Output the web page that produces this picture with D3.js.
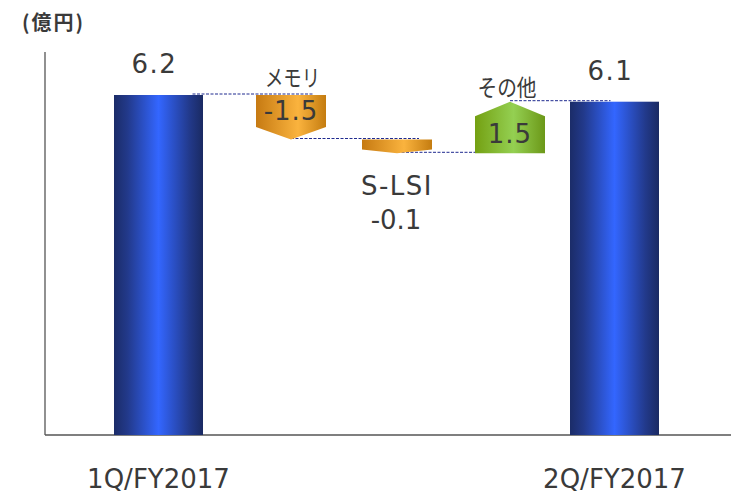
<!DOCTYPE html>
<html>
<head>
<meta charset="utf-8" />
<title>Waterfall 1Q-2Q FY2017</title>
<style>
html, body {
  margin: 0;
  padding: 0;
  background-color: #FFFFFF;
}
svg {
  display: block;
}
</style>
</head>
<body>
<script src="https://d3js.org/d3.v7.min.js"></script>
<script>
// data
var categories = ["1Q/FY2017", "メモリ", "S-LSI", "その他", "2Q/FY2017"];
var kinds = ["total", "delta", "delta", "delta", "total"];
var values = [6.2, -1.5, -0.1, 1.5, 6.1];
var valueLabels = ["6.2", "-1.5", "-0.1", "1.5", "6.1"];
var unitLabel = "(億円)";

var width = 731, height = 493;
var textColor = "#3a3a3a";
var numFont = "'DejaVu Sans', Verdana, sans-serif";
var jpFont = "'Noto Sans CJK JP', 'Noto Sans', sans-serif";

var svg = d3.select("body").append("svg")
  .attr("width", width)
  .attr("height", height);

// running totals for the bridge
var starts = [], ends = [];
var run = 0;
for (var i = 0; i < values.length; i++) {
  if (kinds[i] == "total") {
    starts.push(0);
    ends.push(values[i]);
    run = values[i];
  } else {
    starts.push(run);
    run = Math.round((run + values[i]) * 100) / 100;
    ends.push(run);
  }
}

// the slide is schematic: the bridge band near the top is stretched
var levels = Array.from(new Set(ends)).sort(d3.ascending);
var y = d3.scaleLinear()
  .domain([0].concat(levels))
  .range([435, 153.3, 139.5, 101.7, 95]);
var x = d3.scaleLinear()
  .domain(d3.range(categories.length))
  .range([158.5, 291, 397, 510, 614.5]);
var totalW = 89, deltaW = 70;

// gradients
var defs = svg.append("defs");
function grad(id, stops) {
  var g = defs.append("linearGradient").attr("id", id)
    .attr("x1", "0%").attr("x2", "100%").attr("y1", "0%").attr("y2", "0%");
  stops.forEach(function(s) {
    g.append("stop").attr("offset", s[0]).attr("stop-color", s[1]);
  });
}
grad("gBlue", [["0%", "#1b2c68"], ["15%", "#22398a"], ["50%", "#3366ff"], ["85%", "#22398a"], ["100%", "#1a2a62"]]);
grad("gOrange", [["0%", "#c67a12"], ["60%", "#fab33e"], ["100%", "#c47c10"]]);
grad("gGreen", [["0%", "#74a012"], ["55%", "#94d052"], ["100%", "#6c9818"]]);

// axes
svg.append("line")
  .attr("x1", 45).attr("x2", 45)
  .attr("y1", 52).attr("y2", y(0))
  .attr("stroke", "#555").attr("stroke-width", 1.3);
svg.append("line")
  .attr("x1", 45).attr("x2", width)
  .attr("y1", y(0)).attr("y2", y(0))
  .attr("stroke", "#555").attr("stroke-width", 1.3);

svg.append("text")
  .attr("x", 22).attr("y", 30)
  .attr("font-family", jpFont)
  .attr("font-weight", "bold")
  .attr("font-size", 20)
  .attr("textLength", 61)
  .attr("lengthAdjust", "spacing")
  .attr("fill", textColor)
  .text(unitLabel);

// connectors
for (var i = 0; i < values.length - 1; i++) {
  var yy = y(ends[i]) - 1;
  var x1 = kinds[i] == "total" ? x(i) + 34 : x(i);
  var x2 = kinds[i + 1] == "total" ? x(i + 1) - 4 : x(i + 1) + 22;
  svg.append("line")
    .attr("x1", x1).attr("x2", x2)
    .attr("y1", yy).attr("y2", yy)
    .attr("stroke", "#1f2a8f")
    .attr("stroke-width", 1)
    .attr("stroke-dasharray", "3,1.5");
}

// marks
categories.forEach(function(cat, i) {
  var cx = x(i);
  if (kinds[i] == "total") {
    svg.append("rect")
      .attr("x", cx - totalW / 2)
      .attr("y", y(ends[i]))
      .attr("width", totalW)
      .attr("height", y(0) - y(ends[i]))
      .attr("fill", "url(#gBlue)");
    svg.append("text")
      .attr("x", cx - 4).attr("y", y(ends[i]) - 22)
      .attr("text-anchor", "middle")
      .attr("font-family", numFont).attr("font-size", 26)
      .attr("letter-spacing", 1.5)
      .attr("fill", textColor)
      .text(valueLabels[i]);
    svg.append("text")
      .attr("x", cx).attr("y", 488)
      .attr("text-anchor", "middle")
      .attr("font-family", numFont).attr("font-size", 26)
      .attr("fill", textColor)
      .text(cat);
    return;
  }
  var l = cx - deltaW / 2, r = cx + deltaW / 2;
  var down = values[i] < 0;
  var top = y(Math.max(starts[i], ends[i]));
  var bot = y(Math.min(starts[i], ends[i]));
  var tip = (bot - top) * 0.28;
  var pts = down
    ? [[l, top], [r, top], [r, bot - tip], [cx, bot], [l, bot - tip]]
    : [[l, bot], [l, top + tip], [cx, top], [r, top + tip], [r, bot]];
  svg.append("path")
    .attr("d", d3.line()(pts) + "Z")
    .attr("fill", down ? "url(#gOrange)" : "url(#gGreen)");

  var big = bot - top > 30;
  if (big) {
    // Japanese names: tall, narrow glyphs in the slide
    svg.append("text")
      .attr("x", down ? cx + 1.5 : cx - 3).attr("y", top - (down ? 9 : 6))
      .attr("text-anchor", "middle")
      .attr("font-family", jpFont).attr("font-size", 23)
      .attr("textLength", down ? 55 : 59)
      .attr("lengthAdjust", "spacingAndGlyphs")
      .attr("fill", textColor)
      .text(cat);
    svg.append("text")
      .attr("x", cx).attr("y", down ? top + 25 : bot - 10.5)
      .attr("text-anchor", "middle")
      .attr("font-family", numFont).attr("font-size", 26)
      .attr("letter-spacing", 1)
      .attr("fill", textColor)
      .text(valueLabels[i]);
  } else {
    svg.append("text")
      .attr("x", cx).attr("y", bot + 42)
      .attr("text-anchor", "middle")
      .attr("font-family", numFont).attr("font-size", 26)
      .attr("letter-spacing", 1.5)
      .attr("fill", textColor)
      .text(cat);
    svg.append("text")
      .attr("x", cx - 1).attr("y", bot + 76)
      .attr("text-anchor", "middle")
      .attr("font-family", numFont).attr("font-size", 26)
      .attr("fill", textColor)
      .text(valueLabels[i]);
  }
});
</script>
</body>
</html>
